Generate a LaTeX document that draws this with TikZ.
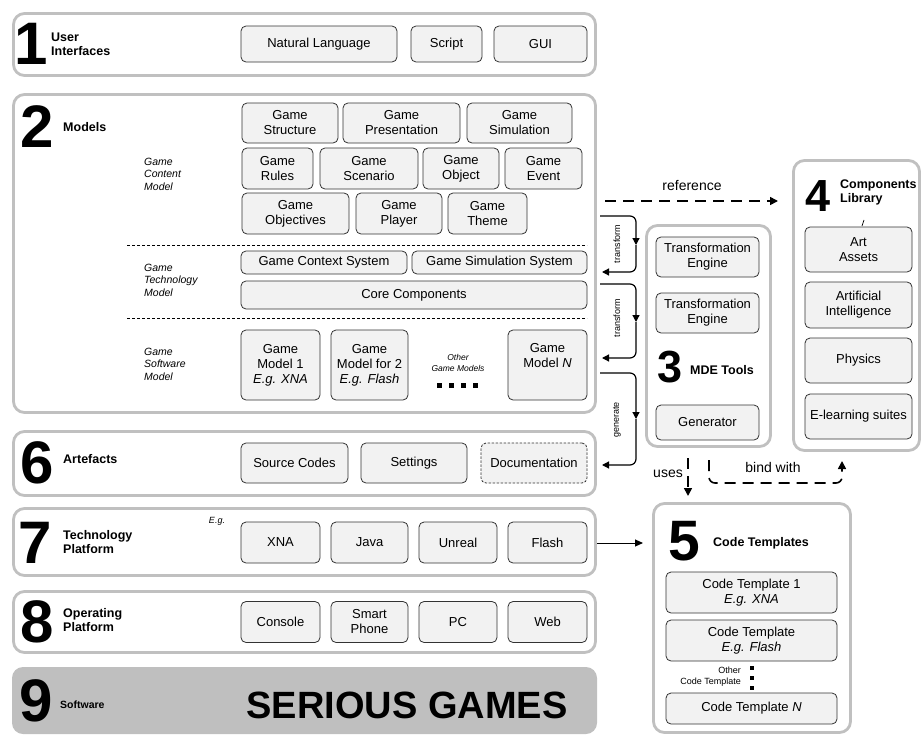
\documentclass[tikz,border=0pt]{standalone}
\usepackage{fontspec}
\setmainfont{Liberation Sans}
\usetikzlibrary{arrows.meta}
\definecolor{panelgray}{HTML}{C0C0C0}
\definecolor{boxfill}{HTML}{F2F2F2}
\definecolor{boxline}{HTML}{333333}
\definecolor{softfill}{HTML}{BFBFBF}

\begin{document}
\begin{tikzpicture}[x=1pt,y=-1pt,
  panel/.style={draw=panelgray, line width=2.8pt, rounded corners=11pt, fill=white, inner sep=0pt, outer sep=0pt},
  ibox/.style={draw=boxline, line width=0.8pt, fill=boxfill, rounded corners=5pt, align=center,
               font=\fontsize{13}{15}\selectfont, inner sep=0pt},
  bignum/.style={font=\fontsize{60}{60}\selectfont\bfseries, inner sep=0pt},
  midnum/.style={font=\fontsize{45}{45}\selectfont\bfseries, inner sep=0pt},
  lbl/.style={font=\fontsize{12.5}{14}\selectfont\bfseries, align=left, anchor=west, inner sep=0pt},
  sublbl/.style={font=\fontsize{10.5}{12.5}\selectfont\itshape, align=left, anchor=west, inner sep=0pt},
  tinytext/.style={font=\fontsize{9}{11}\selectfont, inner sep=0pt},
  flowline/.style={line width=1.2pt, -{Triangle[length=7pt,width=7pt]}, rounded corners=6pt},
  dashflow/.style={line width=1.6pt, dash pattern=on 11pt off 7pt, -{Triangle[length=8pt,width=8pt]}, rounded corners=6pt},
  arrowlabel/.style={font=\fontsize{14}{14}\selectfont, inner sep=0pt},
  dotsq/.style={fill=black, minimum size=5pt, inner sep=0pt}
]
\useasboundingbox (0,0) rectangle (924,736);

% ---------- layer panels ----------
\node[panel, minimum width=582, minimum height=62] (p1) at (304.5,44.5) {};
\node[panel, minimum width=582, minimum height=318] (p2) at (304.5,253.5) {};
\node[panel, minimum width=582, minimum height=64] (p6) at (304.5,463.5) {};
\node[panel, minimum width=582, minimum height=67] (p7) at (304.5,542) {};
\node[panel, minimum width=582, minimum height=61] (p8) at (304.5,622) {};
\node[fill=softfill, rounded corners=11pt, minimum width=585, minimum height=67, inner sep=0pt] (p9) at (304.5,700.5) {};
\node[panel, minimum width=124, minimum height=221] (p3) at (708.5,336) {};
\node[panel, minimum width=126, minimum height=290] (p4) at (856.5,305.5) {};
\node[panel, minimum width=197, minimum height=229] (p5) at (752,618) {};

% ---------- 1 User Interfaces ----------
\node[bignum] (n1) at (31,44) {1};
\node[lbl] (l1) at (51,44) {User\\Interfaces};
\node[ibox, minimum width=156, minimum height=36] (nl) at (319,44) {Natural Language};
\node[ibox, minimum width=71, minimum height=36] (script) at (446.5,44) {Script};
\node[ibox, minimum width=93, minimum height=36] (gui) at (540.5,44) {GUI};

% ---------- 2 Models ----------
\node[bignum] (n2) at (37,127) {2};
\node[lbl] (l2) at (63,127) {Models};
\node[sublbl] (gcm) at (144,174) {Game\\Content\\Model};
\node[sublbl] (gtm) at (144,280) {Game\\Technology\\Model};
\node[sublbl] (gsm) at (144,364) {Game\\Software\\Model};

\node[ibox, minimum width=96, minimum height=40] (gstruct) at (290,123) {Game\\Structure};
\node[ibox, minimum width=117, minimum height=40] (gpres) at (401.5,123) {Game\\Presentation};
\node[ibox, minimum width=105, minimum height=40] (gsim) at (519.5,123) {Game\\Simulation};

\node[ibox, minimum width=71, minimum height=41] (grules) at (277.5,168.5) {Game\\Rules};
\node[ibox, minimum width=98, minimum height=41] (gscen) at (369,168.5) {Game\\Scenario};
\node[ibox, minimum width=76, minimum height=41] (gobj) at (461,168.5) {Game\\Object};
\node[ibox, minimum width=77, minimum height=41] (gevent) at (543.5,168.5) {Game\\Event};

\node[ibox, minimum width=107, minimum height=41] (gobjv) at (295.5,213.5) {Game\\Objectives};
\node[ibox, minimum width=86, minimum height=41] (gplayer) at (399,213.5) {Game\\Player};
\node[ibox, minimum width=79, minimum height=41] (gtheme) at (487.5,213.5) {Game\\Theme};

\coordinate (d1a) at (127,245);
\coordinate (d1b) at (587,245);
\draw[line width=0.7pt, dash pattern=on 3pt off 2pt] (d1a) -- (d1b);

\node[ibox, minimum width=166, minimum height=23] (gctx) at (324,262.5) {Game Context System};
\node[ibox, minimum width=175, minimum height=23] (gsimsys) at (499.5,262.5) {Game Simulation System};
\node[ibox, minimum width=346, minimum height=28] (core) at (414,295) {Core Components};

\coordinate (d2a) at (127,318);
\coordinate (d2b) at (587,318);
\draw[line width=0.7pt, dash pattern=on 3pt off 2pt] (d2a) -- (d2b);

\node[ibox, minimum width=79, minimum height=70] (gm1) at (280.5,365) {Game\\Model 1\\\textit{E.g. XNA}};
\node[ibox, minimum width=77, minimum height=70] (gm2) at (369.5,365) {Game\\Model for 2\\\textit{E.g. Flash}};
\node[ibox, minimum width=79, minimum height=70] (gmn) at (547.5,365) {Game\\Model \textit{N}\\\strut};
\node[font=\fontsize{8.5}{11}\selectfont\itshape, align=center, inner sep=0pt] (ogm) at (458,363) {Other\\Game Models};
\node[dotsq] (od1) at (439,385) {};
\node[dotsq] (od2) at (451,385) {};
\node[dotsq] (od3) at (463,385) {};
\node[dotsq] (od4) at (475,385) {};

% ---------- 6 Artefacts ----------
\node[bignum] (n6) at (37,463) {6};
\node[lbl] (l6) at (63,459) {Artefacts};
\node[ibox, minimum width=107, minimum height=40] (src) at (294.5,463) {Source Codes};
\node[ibox, minimum width=106, minimum height=40] (set) at (414,463) {Settings};
\node[ibox, dash pattern=on 2.5pt off 1.5pt, minimum width=106, minimum height=40] (doc) at (534,463) {Documentation};

% ---------- 7 Technology Platform ----------
\node[bignum] (n7) at (35,543) {7};
\node[lbl] (l7) at (63,542) {Technology\\Platform};
\node[font=\fontsize{9}{9}\selectfont\itshape, inner sep=0pt] (eg7) at (217,521) {E.g.};
\node[ibox, minimum width=79, minimum height=41] (xna) at (280.5,542.5) {XNA};
\node[ibox, minimum width=77, minimum height=41] (java) at (369.5,542.5) {Java};
\node[ibox, minimum width=78, minimum height=41] (unreal) at (458,542.5) {Unreal};
\node[ibox, minimum width=79, minimum height=41] (flash) at (547.5,542.5) {Flash};

% ---------- 8 Operating Platform ----------
\node[bignum] (n8) at (37,622) {8};
\node[lbl] (l8) at (63,620) {Operating\\Platform};
\node[ibox, minimum width=79, minimum height=41] (console) at (280.5,622) {Console};
\node[ibox, minimum width=77, minimum height=41] (phone) at (369.5,622) {Smart\\Phone};
\node[ibox, minimum width=78, minimum height=41] (pc) at (458,622) {PC};
\node[ibox, minimum width=79, minimum height=41] (web) at (547.5,622) {Web};

% ---------- 9 Software ----------
\node[bignum] (n9) at (36,701) {9};
\node[font=\fontsize{10.5}{12}\selectfont\bfseries, anchor=west, inner sep=0pt] (l9) at (60,705) {Software};
\node[font=\fontsize{38}{38}\selectfont\bfseries, inner sep=0pt] (sg) at (407,705) {SERIOUS GAMES};

% ---------- 3 MDE Tools ----------
\node[ibox, minimum width=103, minimum height=40] (te1) at (707.5,257) {Transformation\\Engine};
\node[ibox, minimum width=103, minimum height=40] (te2) at (707.5,313) {Transformation\\Engine};
\node[midnum] (n3) at (670,367) {3};
\node[lbl] (l3) at (690,370) {MDE Tools};
\node[ibox, minimum width=103, minimum height=35] (gen) at (707.5,422.5) {Generator};

% ---------- 4 Components Library ----------
\node[midnum] (n4) at (818,196) {4};
\node[lbl] (l4) at (840,192) {Components\\Library};
\node[ibox, minimum width=107, minimum height=45] (art) at (858.5,249.5) {Art\\Assets};
\node[ibox, minimum width=107, minimum height=46] (ai) at (858.5,305) {Artificial\\Intelligence};
\node[ibox, minimum width=107, minimum height=45] (phys) at (858.5,360.5) {Physics};
\node[ibox, minimum width=107, minimum height=45] (elearn) at (858.5,416.5) {E-learning suites};
\coordinate (tk1) at (862,226);
\coordinate (tk2) at (864,220);
\draw[line width=0.7pt] (tk1) -- (tk2);

% ---------- 5 Code Templates ----------
\node[font=\fontsize{57}{57}\selectfont\bfseries, inner sep=0pt] (n5) at (684,541) {5};
\node[lbl] (l5) at (713,543) {Code Templates};
\node[ibox, minimum width=171, minimum height=41] (ct1) at (751.5,592.5) {Code Template 1\\\textit{E.g. XNA}};
\node[ibox, minimum width=171, minimum height=41] (ct2) at (751.5,640.5) {Code Template\\\textit{E.g. Flash}};
\node[tinytext, align=right, anchor=east] (oct) at (741,677) {Other\\Code Template};
\node[fill=black, minimum size=4pt, inner sep=0pt] (cd1) at (752,668) {};
\node[fill=black, minimum size=4pt, inner sep=0pt] (cd2) at (752,678) {};
\node[fill=black, minimum size=4pt, inner sep=0pt] (cd3) at (752,688) {};
\node[ibox, minimum width=171, minimum height=31] (ctn) at (751.5,708.5) {Code Template \textit{N}};

% ---------- connectors ----------
% reference: models -> components library
\coordinate (refS) at (605,201);
\coordinate (refE) at (778,201);
\draw[dashflow] (refS) -- (refE);
\node[arrowlabel] (refL) at (692,186) {reference};

% transformations between model levels
\coordinate (t1a) at (600,216);
\coordinate (t1m) at (636,245);
\coordinate (t1b) at (602,272);
\draw[flowline] (t1a) -| (t1m);
\draw[flowline] (t1m) |- (t1b);
\node[tinytext, rotate=90] (t1l) at (617,244) {transform};

\coordinate (t2a) at (600,284);
\coordinate (t2m) at (636,322);
\coordinate (t2b) at (602,358);
\draw[flowline] (t2a) -| (t2m);
\draw[flowline] (t2m) |- (t2b);
\node[tinytext, rotate=90] (t2l) at (617,318) {transform};

\coordinate (g1a) at (600,373);
\coordinate (g1m) at (636,419);
\coordinate (g1b) at (602,465);
\draw[flowline] (g1a) -| (g1m);
\draw[flowline] (g1m) |- (g1b);
\node[tinytext, rotate=90] (g1l) at (617,420) {generate};

% uses / bind with
\coordinate (uS) at (688,458);
\coordinate (uE) at (688,496);
\draw[dashflow] (uS) -- (uE);
\node[arrowlabel, anchor=east] (uL) at (683,474) {uses};

\coordinate (bS) at (709,460);
\coordinate (bC) at (709,483);
\coordinate (bE) at (842,461);
\draw[dashflow] (bS) |- (bE |- bC) -- (bE);
\node[arrowlabel] (bL) at (773,467) {bind with};

% technology platform -> code templates
\coordinate (tpS) at (597,543);
\coordinate (tpE) at (643,543);
\draw[line width=1pt, -{Triangle[length=8pt,width=7pt]}] (tpS) -- (tpE);

\end{tikzpicture}
\end{document}
